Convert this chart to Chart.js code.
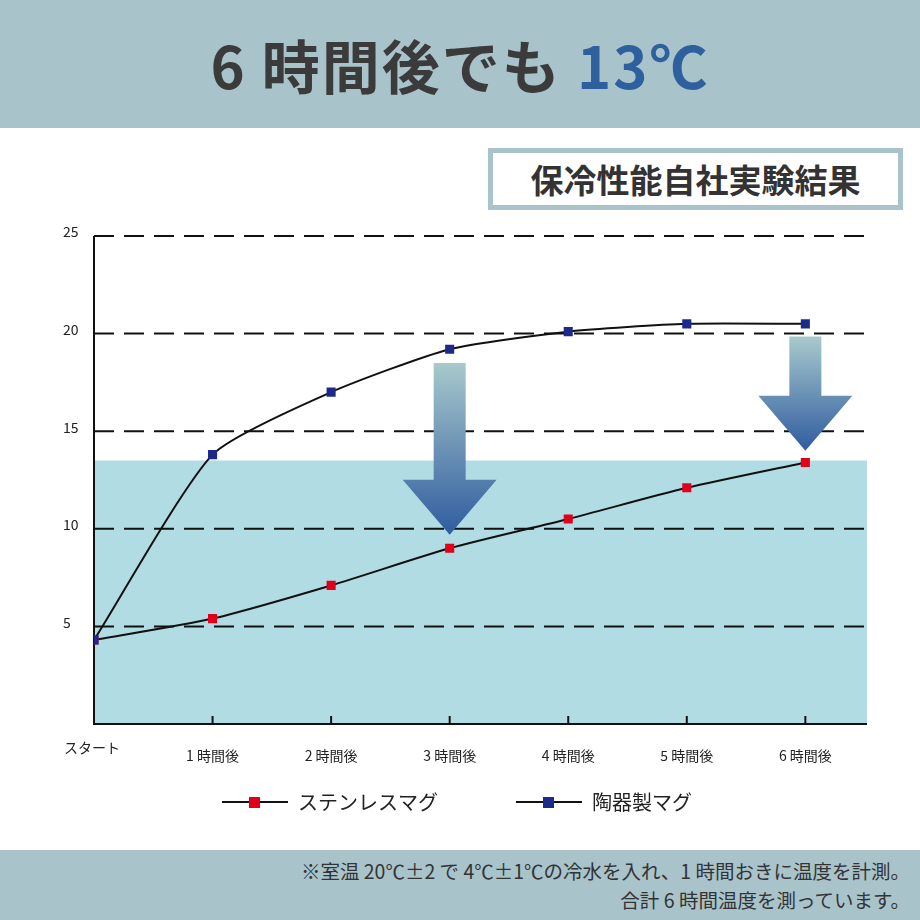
<!DOCTYPE html>
<html><head><meta charset="utf-8">
<script src="https://cdn.jsdelivr.net/npm/chart.js@4"></script>
<style>
body{margin:0;width:920px;height:920px;position:relative;background:#fff;font-family:"Noto Sans CJK JP",sans-serif;overflow:hidden}
#hd{position:absolute;left:0;top:0;width:920px;height:128px;background:#a9c3cb;text-align:center;line-height:128px;font-size:58px;font-weight:bold;color:#3b3b3b;letter-spacing:2px}
#hd span{color:#2f609e}
#box{position:absolute;left:488px;top:148px;width:405px;height:52px;border:5px solid #a9c3cb;text-align:center;line-height:52px;font-size:33px;font-weight:bold;color:#333}
#ft{position:absolute;left:0;top:850px;width:920px;height:70px;background:#a9c3cb;color:#333;font-size:19.5px;text-align:right;line-height:29px;box-sizing:border-box;padding:6px 10px 0 0}
canvas{position:absolute;left:0;top:0}
</style></head><body>
<div id="hd">6 時間後でも <span>13℃</span></div>
<div id="box">保冷性能自社実験結果</div>
<div id="ft">※室温 20℃±2 で 4℃±1℃の冷水を入れ、1 時間おきに温度を計測。<br>合計 6 時間温度を測っています。</div>
<canvas id="c" width="920" height="920"></canvas>
<script>
const categories=["スタート","1 時間後","2 時間後","3 時間後","4 時間後","5 時間後","6 時間後"];
const stainless=[4.3,5.4,7.1,9.0,10.5,12.1,13.4];
const ceramic=[4.3,13.8,17.0,19.2,20.1,20.5,20.5];
const yTicks=[5,10,15,20,25];
const bandTop=13.5;
const seriesNames=["ステンレスマグ","陶器製マグ"];
const colors=["#e0001a","#1e2a8a"];
const pts=a=>a.map((v,i)=>({x:i,y:v}));
const deco={id:'deco',
beforeDatasetsDraw(ch){const c=ch.ctx,x=ch.scales.x,y=ch.scales.y,a=ch.chartArea;
 c.save();c.fillStyle='#b1dce4';c.fillRect(a.left,y.getPixelForValue(bandTop),a.right-a.left,y.getPixelForValue(0)-y.getPixelForValue(bandTop));
 c.strokeStyle='#111';c.lineWidth=2;c.setLineDash([20,10]);
 yTicks.forEach(t=>{const p=y.getPixelForValue(t);c.beginPath();c.moveTo(a.left,p);c.lineTo(a.right,p);c.stroke();});
 c.setLineDash([]);c.beginPath();c.moveTo(a.left,a.top);c.lineTo(a.left,a.bottom);c.lineTo(a.right,a.bottom);c.stroke();
 categories.forEach((_,i)=>{if(!i)return;const p=x.getPixelForValue(i);c.beginPath();c.moveTo(p,a.bottom);c.lineTo(p,a.bottom-8);c.stroke();});
 c.fillStyle='#222';c.font='14px "Noto Sans CJK JP"';c.textBaseline='middle';
 yTicks.forEach(t=>{c.textAlign='left';c.fillText(String(t),63,y.getPixelForValue(t)-4);});
 categories.forEach((l,i)=>{c.textAlign='center';c.fillText(l,x.getPixelForValue(i)+(i?0:-2),i?756:748);});
 c.font='20px "Noto Sans CJK JP"';c.textAlign='left';
 [[222,0],[516,1]].forEach(([lx,k])=>{c.strokeStyle='#111';c.lineWidth=2;c.beginPath();c.moveTo(lx,802);c.lineTo(lx+66,802);c.stroke();
  c.fillStyle=colors[k];c.fillRect(lx+27,797,11,11);c.fillStyle='#222';c.fillText(seriesNames[k],lx+76,802);});
 c.restore();},
afterDatasetsDraw(ch){const c=ch.ctx,x=ch.scales.x,y=ch.scales.y;
 const arrow=(i,top,bot)=>{const cx=x.getPixelForValue(i),t=y.getPixelForValue(top),b=y.getPixelForValue(bot),hh=55,sw=16,hw=47;
  const g=c.createLinearGradient(0,t,0,b);g.addColorStop(0,'#a8c9cc');g.addColorStop(1,'#2f5c9f');
  c.fillStyle=g;c.beginPath();c.moveTo(cx-sw,t);c.lineTo(cx+sw,t);c.lineTo(cx+sw,b-hh);c.lineTo(cx+hw,b-hh);c.lineTo(cx,b);c.lineTo(cx-hw,b-hh);c.lineTo(cx-sw,b-hh);c.closePath();c.fill();};
 arrow(3,18.5,9.7);arrow(6,19.85,14.0);}};
new Chart(document.getElementById('c'),{type:'line',
data:{datasets:[
{label:seriesNames[0],data:pts(stainless),borderColor:'#111',borderWidth:2,pointStyle:'rect',pointRadius:5,pointBackgroundColor:colors[0],pointBorderColor:colors[0],tension:0.25,order:1},
{label:seriesNames[1],data:pts(ceramic),borderColor:'#111',borderWidth:2,pointStyle:'rect',pointRadius:5,pointBackgroundColor:colors[1],pointBorderColor:colors[1],tension:0.2,order:0}]},
options:{responsive:false,animation:false,devicePixelRatio:1,
layout:{padding:{left:94,right:53,top:236,bottom:196}},
plugins:{legend:{display:false},tooltip:{enabled:false}},
scales:{x:{type:'linear',min:0,max:6.52,display:false},y:{min:0,max:25,display:false}}},
plugins:[deco]});
</script></body></html>
